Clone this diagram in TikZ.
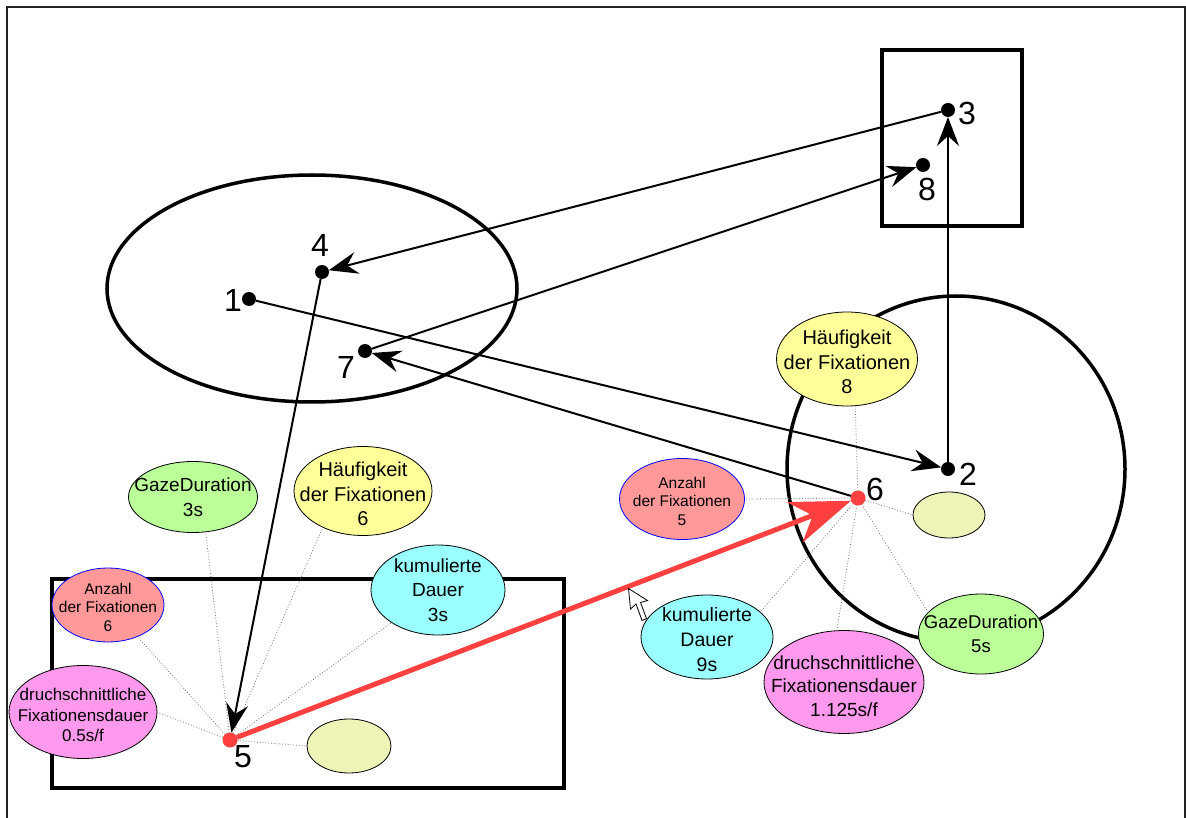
\documentclass[tikz,border=0pt]{standalone}
\usepackage{fontspec}
\setmainfont{Liberation Sans}
\usetikzlibrary{arrows.meta,shapes.geometric}
\definecolor{redline}{HTML}{FF4040}
\definecolor{bgreen}{HTML}{BBFF99}
\definecolor{byellow}{HTML}{FFFF99}
\definecolor{bcyan}{HTML}{99FFFF}
\definecolor{bsalmon}{HTML}{FF9999}
\definecolor{bpink}{HTML}{FF99EE}
\definecolor{bpale}{HTML}{EEF3B8}
\definecolor{framegray}{HTML}{222222}
\begin{document}
\begin{tikzpicture}[x=1pt,y=-1pt,
  area/.style={draw=black,line width=3.5pt},
  bub/.style={ellipse,draw=black,line width=0.8pt,inner sep=0pt,outer sep=0pt},
  txt/.style={align=center,inner sep=0pt,font=\fontsize{19}{24.5}\selectfont},
  htxt/.style={align=center,inner sep=0pt,font=\fontsize{20}{24.5}\selectfont},
  stxt/.style={align=center,inner sep=0pt,font=\fontsize{15.5}{18.5}\selectfont},
  fix/.style={circle,fill=black,inner sep=0pt,outer sep=0pt,minimum size=14pt},
  redfix/.style={circle,fill=redline,inner sep=0pt,outer sep=0pt,minimum size=15pt},
  num/.style={inner sep=0pt,font=\fontsize{32}{32}\selectfont},
  link/.style={draw=black!55,dotted,line width=0.8pt},
  jump/.style={draw=black,line width=2pt,-{Stealth[length=29pt,width=22pt,inset=10pt]}},
  redjump/.style={draw=redline,line width=5pt,-{Stealth[length=60pt,width=43pt,inset=19pt]}}
]
\useasboundingbox (0,0) rectangle (1186,818);

% outer frame (runs off the bottom edge)
\draw[framegray,line width=2pt] (7,818) -- (7,7) -- (1184.5,7) -- (1184.5,818);

% areas of interest
\draw[area] (312,288.5) ellipse [x radius=205pt, y radius=113.5pt];
\draw[area] (882,50) rectangle (1022,226);
\draw[area] (956,469) ellipse [x radius=169pt, y radius=173pt];
\draw[area] (52,579) rectangle (564,788);

% metric bubbles around fixation 5
\node[bub,fill=bgreen,minimum width=129pt,minimum height=71pt] (g3) at (193,497) {};
\node[txt] (g3t) at (g3) {GazeDuration\\3s};
\node[bub,fill=byellow,minimum width=138pt,minimum height=89pt] (h6) at (363,491) {};
\node[htxt] (h6t) at (363,494) {Häufigkeit\\der Fixationen\\6};
\node[bub,fill=bcyan,minimum width=134pt,minimum height=90pt] (k3) at (438,590) {};
\node[txt] (k3t) at (k3) {kumulierte\\Dauer\\3s};
\node[bub,draw=blue,fill=bsalmon,minimum width=112pt,minimum height=74pt] (a6) at (108,605) {};
\node[stxt] (a6t) at (108,607) {Anzahl\\der Fixationen\\6};
\node[bub,fill=bpink,minimum width=148pt,minimum height=93pt] (d05) at (83,712) {};
\node[txt,font=\fontsize{17}{20.5}\selectfont] (d05t) at (83,715) {druchschnittliche\\Fixationensdauer\\0.5s/f};
\node[bub,fill=bpale,minimum width=84pt,minimum height=54pt] (y5) at (349,746) {};

% metric bubbles around fixation 6
\node[bub,fill=byellow,minimum width=141pt,minimum height=94pt] (h8) at (847,359) {};
\node[htxt] (h8t) at (847,362) {Häufigkeit\\der Fixationen\\8};
\node[bub,draw=blue,fill=bsalmon,minimum width=125pt,minimum height=81pt] (a5) at (682,499) {};
\node[stxt] (a5t) at (682,501) {Anzahl\\der Fixationen\\5};
\node[bub,fill=bpale,minimum width=72pt,minimum height=46pt] (y6) at (949,515) {};
\node[bub,fill=bcyan,minimum width=132pt,minimum height=84pt] (k9) at (707,637) {};
\node[txt,font=\fontsize{19.5}{25}\selectfont] (k9t) at (707,640) {kumulierte\\Dauer\\9s};
\node[bub,fill=bpink,minimum width=160pt,minimum height=103pt] (d1) at (844,682) {};
\node[txt,font=\fontsize{19}{23.5}\selectfont] (d1t) at (844,686) {druchschnittliche\\Fixationensdauer\\1.125s/f};
\node[bub,fill=bgreen,minimum width=125pt,minimum height=80pt] (g5) at (981,634) {};
\node[txt,font=\fontsize{18.5}{24}\selectfont] (g5t) at (g5) {GazeDuration\\5s};

% fixations
\node[fix] (p1) at (249,299) {};
\node[fix] (p2) at (948,469) {};
\node[fix] (p3) at (948,110) {};
\node[fix] (p4) at (322,272) {};
\node[redfix] (p5) at (230,740) {};
\node[redfix] (p6) at (858,498) {};
\node[fix] (p7) at (365,351) {};
\node[fix] (p8) at (923,165) {};

\node[num] (l1) at (233,300) {1};
\node[num] (l2) at (968,474) {2};
\node[num] (l3) at (967,113) {3};
\node[num] (l4) at (320,245) {4};
\node[num] (l5) at (243,757) {5};
\node[num] (l6) at (875,489) {6};
\node[num] (l7) at (346,367) {7};
\node[num] (l8) at (927,189) {8};

% dotted links from the fixations to their metrics
\draw[link] (p5) -- (g3.290);
\draw[link] (p5) -- (h6.222);
\draw[link] (p5) -- (k3.215);
\draw[link] (p5) -- (a6.313);
\draw[link] (p5) -- (d05.0);
\draw[link] (p5) -- (y5.180);
\draw[link] (p6) -- (h8.280);
\draw[link] (p6) -- (a5.0);
\draw[link] (p6) -- (y6.180);
\draw[link] (p6) -- (g5.158);
\draw[link] (p6) -- (k9.25);
\draw[link] (p6) -- (d1.98);

% saccades
\draw[jump] (p1) -- (p2);
\draw[jump] (p2) -- (p3);
\draw[jump] (p3) -- (p4);
\draw[jump] (p4) -- (p5);
\draw[redjump] (p5) -- (p6);
\draw[jump] (p6) -- (p7);
\draw[jump] (p7) -- (p8);

% mouse pointer
\draw[black,line width=0.8pt,fill=white,line join=miter]
  (628.5,588.5) -- (630.5,609) -- (636,604) -- (642,620.5) -- (646.5,618.5)
  -- (640.5,602.5) -- (647.5,600.5) -- cycle;
\end{tikzpicture}
\end{document}
